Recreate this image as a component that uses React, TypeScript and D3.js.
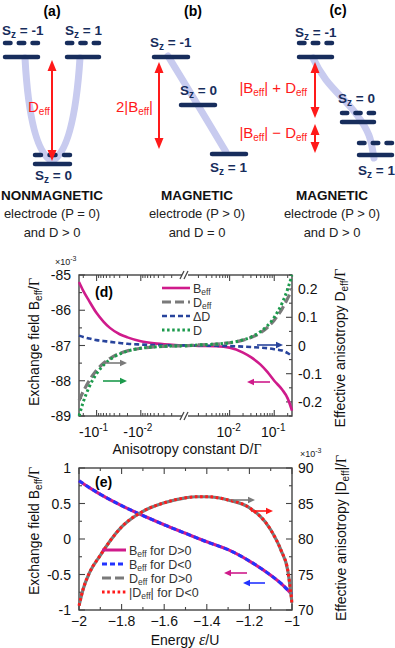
import * as d3 from "d3";
import React from "react";

const FONT = "'Liberation Sans', Arial, Helvetica, sans-serif";
const SERIF = "'Liberation Serif', 'Times New Roman', serif";

// ---- panel (d): sweep over the anisotropy constant, |D| on a broken log axis
const dAbs = [0.001, 0.002, 0.005, 0.01, 0.02, 0.03, 0.05, 0.07, 0.1, 0.15, 0.2, 0.25];
// B_eff in units of 1e-3, for D<0 (same index as dAbs) and D>0
const bEffNeg = [-87.0, -86.98, -86.94, -86.88, -86.77, -86.68, -86.5, -86.32, -86.08, -85.72, -85.45, -85.2];
const bEffPos = [-87.0, -87.01, -87.02, -87.06, -87.2, -87.33, -87.55, -87.75, -88.0, -88.25, -88.5, -88.85];
const dEffNeg = [-0.001, -0.002, -0.0049, -0.0097, -0.019, -0.028, -0.046, -0.063, -0.088, -0.127, -0.163, -0.195];
const dEffPos = [0.001, 0.002, 0.0049, 0.0097, 0.019, 0.028, 0.046, 0.064, 0.09, 0.13, 0.167, 0.2];
const deltaNeg = [0.0003, 0.0006, 0.0015, 0.0035, 0.006, 0.009, 0.013, 0.016, 0.019, 0.025, 0.03, 0.035];
const deltaPos = [-0.0002, -0.0004, -0.001, -0.002, -0.004, -0.0055, -0.0075, -0.0095, -0.013, -0.018, -0.027, -0.037];
const dLeftTicks = [-85, -86, -87, -88, -89];
const dRightTicks = [0.2, 0.1, 0, -0.1, -0.2];
const dMajorAbs = [0.1, 0.01];

// ---- panel (e): sweep over the level energy
const epsB = [-2, -1.95, -1.9, -1.8, -1.7, -1.6, -1.5, -1.4, -1.3, -1.2, -1.1, -1.05, -1];
const bEffE = [0.82, 0.72, 0.63, 0.47, 0.33, 0.2, 0.08, -0.04, -0.15, -0.31, -0.51, -0.63, -0.78];
const epsD = [-2, -1.98, -1.95, -1.9, -1.85, -1.8, -1.7, -1.6, -1.5, -1.45, -1.4, -1.3, -1.2, -1.1, -1.05, -1.02, -1];
const dEffE = [70.6, 73.0, 75.3, 77.7, 79.9, 81.7, 83.9, 85.1, 85.8, 85.95, 85.95, 85.5, 84.4, 81.3, 78.3, 75.6, 71.0];
const eXTicks = [-2, -1.8, -1.6, -1.4, -1.2, -1];
const eLeftTicks = [1, 0.5, 0, -0.5, -1];
const eRightTicks = [90, 85, 80, 75, 70];

const NAVY = "#172d5c";
const LAV = "#c8cbef";
const RED = "#ff1a1a";
const MAG = "#cf1b8b";
const GRAY = "#7a7a7a";
const BLUE_D = "#28449c";
const BLUE_E = "#2233ff";
const GREEN = "#1c9a4c";
const AX = "#444";

const Level = ({x1, x2, y}) => (
    <line x1={x1 + 2} x2={x2 - 2} y1={y} y2={y} stroke={NAVY} strokeWidth={4.5} strokeLinecap="round"/>
);

const Dashes = ({x1, x2, y}) => {
    const d = (x2 - x1) / 3.9, g = d * 0.45;
    return (
        <g>
            {[0, 1, 2].map(i => {
                const a = x1 + i * (d + g);
                return <line key={i} x1={a + 2} x2={a + d - 2} y1={y} y2={y} stroke={NAVY} strokeWidth={4.5}
                             strokeLinecap="round"/>;
            })}
        </g>
    );
};

const Sz = ({x, y, v}) => (
    <text x={x} y={y} fontFamily={FONT} fontWeight="bold" fontSize={13.5} fill={NAVY}>
        S<tspan fontSize={10} dy={3}>z</tspan><tspan dy={-3}>{" = " + v}</tspan>
    </text>
);

const VArrow = ({x, y1, y2}) => (
    <g fill={RED} stroke={RED}>
        <line x1={x} x2={x} y1={y1 + 8} y2={y2 - 8} strokeWidth={2}/>
        <polygon points={`${x},${y1} ${x - 4.5},${y1 + 11} ${x + 4.5},${y1 + 11}`} stroke="none"/>
        <polygon points={`${x},${y2} ${x - 4.5},${y2 - 11} ${x + 4.5},${y2 - 11}`} stroke="none"/>
    </g>
);

const Caption = ({x, title, l1, l2}) => (
    <g fontFamily={FONT} textAnchor="middle">
        <text x={x} y={200} fontWeight="bold" fontSize={13.5} fill="#111">{title}</text>
        <text x={x} y={218} fontSize={13} fill="#222">{l1}</text>
        <text x={x} y={237} fontSize={13} fill="#222">{l2}</text>
    </g>
);

const Schematic = () => (
    <g>
        {/* (a) */}
        <text x={52} y={16} textAnchor="middle" fontFamily={FONT} fontWeight="bold" fontSize={14}>(a)</text>
        <path d="M25,58 Q30,150 52,161 Q74,150 80,58" fill="none" stroke={LAV} strokeWidth={7} strokeLinecap="round"/>
        <Sz x={2} y={35} v="-1"/>
        <Sz x={65} y={35} v="1"/>
        <Dashes x1={3} x2={40} y={43}/>
        <Level x1={3} x2={40} y={57}/>
        <Dashes x1={65} x2={101} y={43}/>
        <Level x1={65} x2={101} y={57}/>
        <Dashes x1={33} x2={72} y={155}/>
        <Level x1={33} x2={72} y={164}/>
        <Sz x={35} y={180} v="0"/>
        <VArrow x={52} y1={60} y2={161}/>
        <text x={28} y={112} fontFamily={FONT} fontSize={15} fill={RED}>D<tspan fontSize={10} dy={3}>eff</tspan></text>
        <Caption x={52} title="NONMAGNETIC" l1="electrode (P = 0)" l2="and D > 0"/>

        {/* (b) */}
        <text x={193} y={16} textAnchor="middle" fontFamily={FONT} fontWeight="bold" fontSize={14}>(b)</text>
        <path d="M168,56 Q195,100 226,152" fill="none" stroke={LAV} strokeWidth={7} strokeLinecap="round"/>
        <Sz x={150} y={47} v="-1"/>
        <Level x1={152} x2={190} y={57}/>
        <Sz x={180} y={95} v="0"/>
        <Level x1={179} x2={217} y={105}/>
        <Level x1={210} x2={248} y={154}/>
        <Sz x={210} y={172} v="1"/>
        <VArrow x={159} y1={62} y2={149}/>
        <text x={153} y={112} textAnchor="end" fontFamily={FONT} fontSize={15} fill={RED}>
            2|B<tspan fontSize={10} dy={3}>eff</tspan><tspan dy={-3}>|</tspan>
        </text>
        <Caption x={197} title="MAGNETIC" l1="electrode (P > 0)" l2="and D = 0"/>

        {/* (c) */}
        <text x={338} y={15} textAnchor="middle" fontFamily={FONT} fontWeight="bold" fontSize={14}>(c)</text>
        <path d="M313,58 C325,85 342,95 357,115 S371,143 374,158" fill="none" stroke={LAV} strokeWidth={7}
              strokeLinecap="round"/>
        <Sz x={295} y={37} v="-1"/>
        <Dashes x1={297} x2={334} y={43}/>
        <Level x1={297} x2={334} y={57}/>
        <Sz x={338} y={103} v="0"/>
        <Dashes x1={340} x2={376} y={113}/>
        <Level x1={340} x2={376} y={122}/>
        <Dashes x1={357} x2={394} y={143}/>
        <Level x1={357} x2={394} y={155}/>
        <Sz x={358} y={175} v="1"/>
        <VArrow x={315} y1={62} y2={118}/>
        <VArrow x={315} y1={124} y2={153}/>
        <text x={307} y={93} textAnchor="end" fontFamily={FONT} fontSize={15} fill={RED}>
            |B<tspan fontSize={10} dy={3}>eff</tspan><tspan dy={-3}>| + D</tspan><tspan fontSize={10} dy={3}>eff</tspan>
        </text>
        <text x={307} y={138} textAnchor="end" fontFamily={FONT} fontSize={15} fill={RED}>
            |B<tspan fontSize={10} dy={3}>eff</tspan><tspan dy={-3}>| − D</tspan><tspan fontSize={10} dy={3}>eff</tspan>
        </text>
        <Caption x={332} title="MAGNETIC" l1="electrode (P > 0)" l2="and D > 0"/>
    </g>
);

const HArrow = ({x1, x2, y, color}) => {
    const dir = x2 > x1 ? 1 : -1;
    return (
        <g>
            <line x1={x1} x2={x2 - dir * 5} y1={y} y2={y} stroke={color} strokeWidth={1.6}/>
            <polygon points={`${x2},${y} ${x2 - dir * 7},${y - 3.2} ${x2 - dir * 7},${y + 3.2}`} fill={color}/>
        </g>
    );
};

const lineGen = d3.line().curve(d3.curveMonotoneX);

// ------------ panel (d)
const PanelD = () => {
    const x0 = 79, x1 = 292, xm = 185, y0 = 275, y1 = 416;
    const xNeg = d3.scaleLog().domain([0.25, 0.001]).range([x0, xm]);
    const xPos = d3.scaleLog().domain([0.001, 0.25]).range([xm, x1]);
    const yL = d3.scaleLinear().domain([-89, -85]).range([y1, y0]);
    const yR = d3.scaleLinear().domain([-0.25, 0.25]).range([y1, y0]);

    const pts = (neg, pos, y) => {
        const p = [];
        for (let i = dAbs.length - 1; i >= 0; i--) p.push([xNeg(dAbs[i]), y(neg[i])]);
        for (let i = 1; i < dAbs.length; i++) p.push([xPos(dAbs[i]), y(pos[i])]);
        return lineGen(p);
    };

    const minors = [];
    [-3, -2, -1].forEach(n => {
        for (let k = 2; k <= 9; k++) {
            const v = k * Math.pow(10, n);
            if (v <= 0.25) minors.push(v);
        }
    });
    const xTickPos = (list) => list.flatMap(v => [xNeg(v), xPos(v)]);

    const leftMinor = d3.range(-89, -84.9, 0.5);
    const rightMinor = d3.range(-0.25, 0.2501, 0.05);

    return (
        <g fontFamily={FONT}>
            <defs>
                <clipPath id="clipD">
                    <rect x={x0 - 1.5} y={y0 - 1.5} width={x1 - x0 + 3} height={y1 - y0 + 3}/>
                </clipPath>
            </defs>
            <rect x={x0} y={y0} width={x1 - x0} height={y1 - y0} fill="none" stroke={AX} strokeWidth={1.4}/>
            {/* log ticks top & bottom */}
            {xTickPos(minors).map((x, i) => (
                <g key={"m" + i} stroke={AX} strokeWidth={1}>
                    <line x1={x} x2={x} y1={y1} y2={y1 - 3}/>
                    <line x1={x} x2={x} y1={y0} y2={y0 + 3}/>
                </g>
            ))}
            {xTickPos(dMajorAbs).map((x, i) => (
                <g key={"M" + i} stroke={AX} strokeWidth={1.1}>
                    <line x1={x} x2={x} y1={y1} y2={y1 - 6}/>
                    <line x1={x} x2={x} y1={y0} y2={y0 + 6}/>
                </g>
            ))}
            {/* left ticks */}
            {leftMinor.map((v, i) => (
                <line key={"lm" + i} x1={x0} x2={x0 + (Math.abs(v % 1) < 1e-6 ? 6 : 3)} y1={yL(v)} y2={yL(v)}
                      stroke={AX} strokeWidth={1.1}/>
            ))}
            {rightMinor.map((v, i) => (
                <line key={"rm" + i} x1={x1} x2={x1 - (i % 2 === 1 ? 6 : 3)} y1={yR(v)} y2={yR(v)}
                      stroke={AX} strokeWidth={1.1}/>
            ))}
            {/* axis breaks */}
            {[y0, y1].map(y => (
                <g key={"b" + y}>
                    <rect x={xm - 3} y={y - 2} width={6} height={4} fill="white"/>
                    <line x1={xm - 5} y1={y + 4} x2={xm - 1} y2={y - 4} stroke={AX} strokeWidth={1.2}/>
                    <line x1={xm - 1} y1={y + 4} x2={xm + 3} y2={y - 4} stroke={AX} strokeWidth={1.2}/>
                </g>
            ))}
            <g clipPath="url(#clipD)" fill="none">
                <path d={pts(bEffNeg, bEffPos, yL)} stroke={MAG} strokeWidth={2.6}/>
                <path d={pts(deltaNeg, deltaPos, yR)} stroke={BLUE_D} strokeWidth={2.6} strokeDasharray="5,3"/>
                <path d={pts(dEffNeg, dEffPos, yR)} stroke={GRAY} strokeWidth={3.2} strokeDasharray="9,4"/>
                <path d={pts(dAbs.map(v => -v), dAbs, yR)} stroke={GREEN} strokeWidth={3}
                      strokeDasharray="2.5,2.6"/>
            </g>
            {/* tick labels */}
            {dLeftTicks.map(v => (
                <text key={"l" + v} x={71} y={yL(v) + 5} textAnchor="end" fontSize={14} fill="#111">{v}</text>
            ))}
            {dRightTicks.map(v => (
                <text key={"r" + v} x={298} y={yR(v) + 5} fontSize={14} fill="#111">{v}</text>
            ))}
            {dMajorAbs.map(v => {
                const e = Math.round(Math.log10(v));
                return (
                    <g key={"x" + v} fontSize={14} fill="#111">
                        <text x={xNeg(v) - 3} y={437} textAnchor="middle">-10<tspan fontSize={10} dy={-6}>{e}</tspan></text>
                        <text x={xPos(v) - 1} y={437} textAnchor="middle">10<tspan fontSize={10} dy={-6}>{e}</tspan></text>
                    </g>
                );
            })}
            <text x={55} y={265} fontSize={9} fill="#222">×10<tspan fontSize={7} dy={-4}>-3</tspan></text>
            <text x={95} y={297} fontSize={14} fontWeight="bold">(d)</text>
            {/* axis titles */}
            <text x={187} y={454} textAnchor="middle" fontSize={14} fill="#111">
                Anisotropy constant D/<tspan fontFamily={SERIF}>Γ</tspan>
            </text>
            <text transform="translate(39,342) rotate(-90)" textAnchor="middle" fontSize={14} fill="#111">
                Exchange field B<tspan fontSize={10} dy={3}>eff</tspan><tspan dy={-3}>/</tspan><tspan fontFamily={SERIF}>Γ</tspan>
            </text>
            <text transform="translate(345,348) rotate(-90)" textAnchor="middle" fontSize={14} fill="#111">
                Effective anisotropy D<tspan fontSize={10} dy={3}>eff</tspan><tspan dy={-3}>/</tspan><tspan fontFamily={SERIF}>Γ</tspan>
            </text>
            {/* legend */}
            {[
                {c: MAG, dash: undefined, w: 2.6, lab: <>B<tspan fontSize={8.5} dy={2}>eff</tspan></>},
                {c: GRAY, dash: "9,4", w: 3.2, lab: <>D<tspan fontSize={8.5} dy={2}>eff</tspan></>},
                {c: BLUE_D, dash: "5,3", w: 2.6, lab: <>ΔD</>},
                {c: GREEN, dash: "2.5,2.6", w: 3, lab: <>D</>},
            ].map((r, i) => (
                <g key={"lg" + i}>
                    <line x1={162} x2={190} y1={288 + i * 14} y2={288 + i * 14} stroke={r.c} strokeWidth={r.w}
                          strokeDasharray={r.dash}/>
                    <text x={193} y={292.5 + i * 14} fontSize={12.5} fill="#333">{r.lab}</text>
                </g>
            ))}
            <HArrow x1={103} x2={127} y={363} color={GRAY}/>
            <HArrow x1={103} x2={127} y={381} color={GREEN}/>
            <HArrow x1={257} x2={283} y={345} color={BLUE_D}/>
            <HArrow x1={270} x2={247} y={382} color={MAG}/>
        </g>
    );
};

// ------------ panel (e)
const PanelE = () => {
    const x0 = 79, x1 = 292, y0 = 468, y1 = 610;
    const x = d3.scaleLinear().domain([-2, -1]).range([x0, x1]);
    const yL = d3.scaleLinear().domain([-1, 1]).range([y1, y0]);
    const yR = d3.scaleLinear().domain([70, 90]).range([y1, y0]);

    const bPath = lineGen(epsB.map((e, i) => [x(e), yL(bEffE[i])]));
    const dPath = lineGen(epsD.map((e, i) => [x(e), yR(dEffE[i])]));

    const xMinor = d3.range(-2, -0.999, 0.1);
    const lMinor = d3.range(-1, 1.001, 0.25);
    const rMinor = d3.range(70, 90.01, 2.5);

    return (
        <g fontFamily={FONT}>
            <defs>
                <clipPath id="clipE">
                    <rect x={x0 - 1.5} y={y0 - 1.5} width={x1 - x0 + 3} height={y1 - y0 + 3}/>
                </clipPath>
            </defs>
            <rect x={x0} y={y0} width={x1 - x0} height={y1 - y0} fill="none" stroke={AX} strokeWidth={1.4}/>
            {xMinor.map((v, i) => {
                const len = i % 2 === 0 ? 6 : 3;
                return (
                    <g key={"xm" + i} stroke={AX} strokeWidth={1.1}>
                        <line x1={x(v)} x2={x(v)} y1={y1} y2={y1 - len}/>
                        <line x1={x(v)} x2={x(v)} y1={y0} y2={y0 + len}/>
                    </g>
                );
            })}
            {lMinor.map((v, i) => (
                <line key={"lm" + i} x1={x0} x2={x0 + (i % 2 === 0 ? 6 : 3)} y1={yL(v)} y2={yL(v)} stroke={AX}
                      strokeWidth={1.1}/>
            ))}
            {rMinor.map((v, i) => (
                <line key={"rm" + i} x1={x1} x2={x1 - (i % 2 === 0 ? 6 : 3)} y1={yR(v)} y2={yR(v)} stroke={AX}
                      strokeWidth={1.1}/>
            ))}
            <g clipPath="url(#clipE)" fill="none">
                <path d={bPath} stroke={MAG} strokeWidth={3.2}/>
                <path d={bPath} stroke={BLUE_E} strokeWidth={3} strokeDasharray="5,3"/>
                <path d={dPath} stroke={GRAY} strokeWidth={3.2}/>
                <path d={dPath} stroke={RED} strokeWidth={3} strokeDasharray="2.6,2.6"/>
            </g>
            {eLeftTicks.map(v => (
                <text key={"l" + v} x={71} y={yL(v) + 5} textAnchor="end" fontSize={14} fill="#111">{v}</text>
            ))}
            {eRightTicks.map(v => (
                <text key={"r" + v} x={298} y={yR(v) + 5} fontSize={14} fill="#111">{v}</text>
            ))}
            {eXTicks.map(v => (
                <text key={"x" + v} x={x(v)} y={626} textAnchor="middle" fontSize={14} fill="#111">
                    {d3.format("~g")(v)}
                </text>
            ))}
            <text x={300} y={457} fontSize={9} fill="#222">×10<tspan fontSize={7} dy={-4}>-3</tspan></text>
            <text x={95} y={487} fontSize={14} fontWeight="bold">(e)</text>
            <text x={185} y={645} textAnchor="middle" fontSize={14} fill="#111">
                Energy <tspan fontStyle="italic" fontFamily={SERIF} fontSize={16}>ε</tspan>/U
            </text>
            <text transform="translate(39,531) rotate(-90)" textAnchor="middle" fontSize={14} fill="#111">
                Exchange field B<tspan fontSize={10} dy={3}>eff</tspan><tspan dy={-3}>/</tspan><tspan fontFamily={SERIF}>Γ</tspan>
            </text>
            <text transform="translate(346,538) rotate(-90)" textAnchor="middle" fontSize={14} fill="#111">
                Effective anisotropy |D<tspan fontSize={10} dy={3}>eff</tspan><tspan dy={-3}>|/</tspan><tspan fontFamily={SERIF}>Γ</tspan>
            </text>
            {[
                {c: MAG, dash: undefined, lab: <>B<tspan fontSize={8.5} dy={2}>eff</tspan><tspan dy={-2}> for D&gt;0</tspan></>},
                {c: BLUE_E, dash: "5,3", lab: <>B<tspan fontSize={8.5} dy={2}>eff</tspan><tspan dy={-2}> for D&lt;0</tspan></>},
                {c: GRAY, dash: "9,4", lab: <>D<tspan fontSize={8.5} dy={2}>eff</tspan><tspan dy={-2}> for D&gt;0</tspan></>},
                {c: RED, dash: "2.6,2.6", lab: <>|D<tspan fontSize={8.5} dy={2}>eff</tspan><tspan dy={-2}>| for D&lt;0</tspan></>},
            ].map((r, i) => (
                <g key={"lg" + i}>
                    <line x1={102} x2={126} y1={550 + i * 14} y2={550 + i * 14} stroke={r.c} strokeWidth={3}
                          strokeDasharray={r.dash}/>
                    <text x={129} y={554.5 + i * 14} fontSize={12.5} fill="#333">{r.lab}</text>
                </g>
            ))}
            <HArrow x1={232} x2={255} y={500} color={GRAY}/>
            <HArrow x1={251} x2={273} y={511} color={RED}/>
            <HArrow x1={247} x2={224} y={573} color={MAG}/>
            <HArrow x1={265} x2={243} y={583} color={BLUE_E}/>
        </g>
    );
};

export default function App() {
    return (
        <svg width={395} height={648} viewBox="0 0 395 648"
             style={{position: "absolute", left: 0, top: 0, background: "white"}}>
            <Schematic/>
            <PanelD/>
            <PanelE/>
        </svg>
    );
}
